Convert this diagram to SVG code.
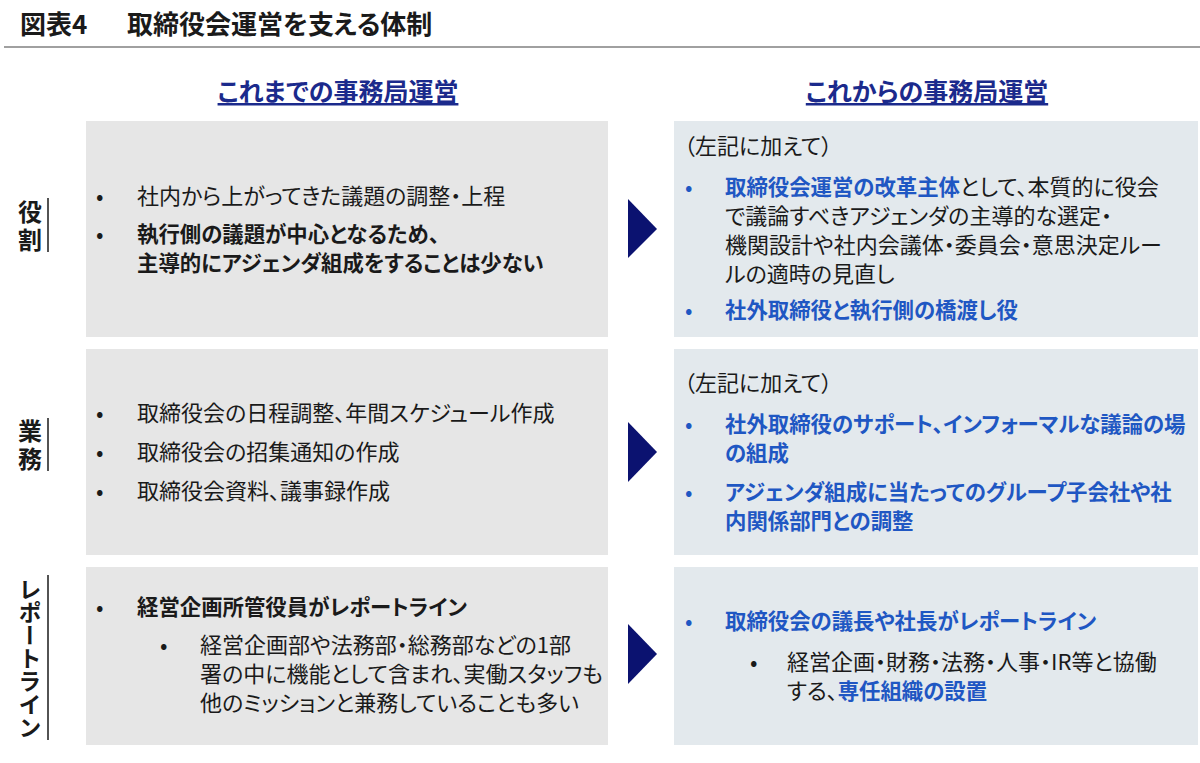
<svg xmlns="http://www.w3.org/2000/svg" width="1200" height="763" viewBox="0 0 1200 763">
<style>
text{font-family:"Noto Sans CJK JP","Noto Sans",sans-serif;fill:#1a1a1a;font-feature-settings:"palt";}
.title{font-size:26px;font-weight:bold;}
.hdr{font-size:25px;font-weight:bold;fill:#1b2a8c;text-decoration:underline;}
.lbl{font-size:24px;font-weight:bold;writing-mode:vertical-rl;font-feature-settings:normal;}
.t{font-size:22px;}
.b{font-weight:bold;font-size:21.4px;}
.blue{fill:#1f57c3;font-weight:bold;font-size:21.4px;}
.bb{fill:#1f57c3;}
.lbox{fill:#e6e6e6;}
.rbox{fill:#e3e9ed;}
.arrow{fill:#0b1270;}
.vline{stroke:#1a1a1a;stroke-width:1.5;}
</style>
<rect width="1200" height="763" fill="#ffffff"/>
<g id="title">
<text class="title" x="20" y="34">図表4</text>
<text class="title" x="127" y="34">取締役会運営を支える体制</text>
<line x1="4" y1="47" x2="1200" y2="47" stroke="#a0a0a0" stroke-width="2"/>
</g>
<g id="header-left"><text class="hdr" x="338" y="101" text-anchor="middle">これまでの事務局運営</text></g>
<g id="header-right"><text class="hdr" x="927" y="101" text-anchor="middle">これからの事務局運営</text></g>

<g id="label-role">
<text class="lbl" x="30" y="200" letter-spacing="4">役割</text>
<line class="vline" x1="48" y1="198" x2="48" y2="252"/>
</g>
<g id="label-work">
<text class="lbl" x="30" y="419" letter-spacing="4">業務</text>
<line class="vline" x1="48" y1="418" x2="48" y2="471"/>
</g>
<g id="label-report">
<text class="lbl" x="30" y="578" style="font-size:23px">レポートライン</text>
<line class="vline" x1="48" y1="575" x2="48" y2="740"/>
</g>

<g id="left-role">
<rect class="lbox" x="86" y="121" width="522" height="216"/>
<text class="t" x="96" y="204">•</text>
<text class="t" x="137" y="204">社内から上がってきた議題の調整・上程</text>
<text class="t" x="96" y="242">•</text>
<text class="t b" x="137" y="242">執行側の議題が中心となるため、</text>
<text class="t b" x="137" y="271">主導的にアジェンダ組成をすることは少ない</text>
</g>
<g id="left-work">
<rect class="lbox" x="86" y="349" width="522" height="206"/>
<text class="t" x="96" y="421">•</text>
<text class="t" x="137" y="421">取締役会の日程調整、年間スケジュール作成</text>
<text class="t" x="96" y="460">•</text>
<text class="t" x="137" y="460">取締役会の招集通知の作成</text>
<text class="t" x="96" y="499">•</text>
<text class="t" x="137" y="499">取締役会資料、議事録作成</text>
</g>
<g id="left-report">
<rect class="lbox" x="86" y="567" width="522" height="178"/>
<text class="t" x="96" y="615">•</text>
<text class="t b" x="137" y="615">経営企画所管役員がレポートライン</text>
<text class="t" x="160" y="653">•</text>
<text class="t" x="200" y="653">経営企画部や法務部・総務部などの1部</text>
<text class="t" x="200" y="682">署の中に機能として含まれ、実働スタッフも</text>
<text class="t" x="200" y="711">他のミッションと兼務していることも多い</text>
</g>

<g id="right-role">
<rect class="rbox" x="674" y="121" width="524" height="216"/>
<text class="t" x="684" y="154">（左記に加えて）</text>
<text class="t bb" x="685" y="195">•</text>
<text class="t" x="725" y="195"><tspan class="blue">取締役会運営の改革主体</tspan>として、本質的に役会</text>
<text class="t" x="725" y="224">で議論すべきアジェンダの主導的な選定・</text>
<text class="t" x="725" y="253">機関設計や社内会議体・委員会・意思決定ルー</text>
<text class="t" x="725" y="282">ルの適時の見直し</text>
<text class="t bb" x="685" y="318">•</text>
<text class="t blue" x="725" y="318">社外取締役と執行側の橋渡し役</text>
</g>
<g id="right-work">
<rect class="rbox" x="674" y="349" width="524" height="206"/>
<text class="t" x="684" y="391">（左記に加えて）</text>
<text class="t bb" x="685" y="432">•</text>
<text class="t blue" x="725" y="432">社外取締役のサポート、インフォーマルな議論の場</text>
<text class="t blue" x="725" y="461">の組成</text>
<text class="t bb" x="685" y="500">•</text>
<text class="t blue" x="725" y="500">アジェンダ組成に当たってのグループ子会社や社</text>
<text class="t blue" x="725" y="529">内関係部門との調整</text>
</g>
<g id="right-report">
<rect class="rbox" x="674" y="567" width="524" height="178"/>
<text class="t bb" x="685" y="629">•</text>
<text class="t blue" x="725" y="629">取締役会の議長や社長がレポートライン</text>
<text class="t" x="750" y="670">•</text>
<text class="t" x="787" y="670">経営企画・財務・法務・人事・IR等と協働</text>
<text class="t" x="787" y="699">する、<tspan class="blue">専任組織の設置</tspan></text>
</g>

<g id="connectors">
<polygon class="arrow" points="628,199 657,229 628,258"/>
<polygon class="arrow" points="628,422 657,452 628,482"/>
<polygon class="arrow" points="628,624 657,654 628,684"/>
</g>
</svg>
